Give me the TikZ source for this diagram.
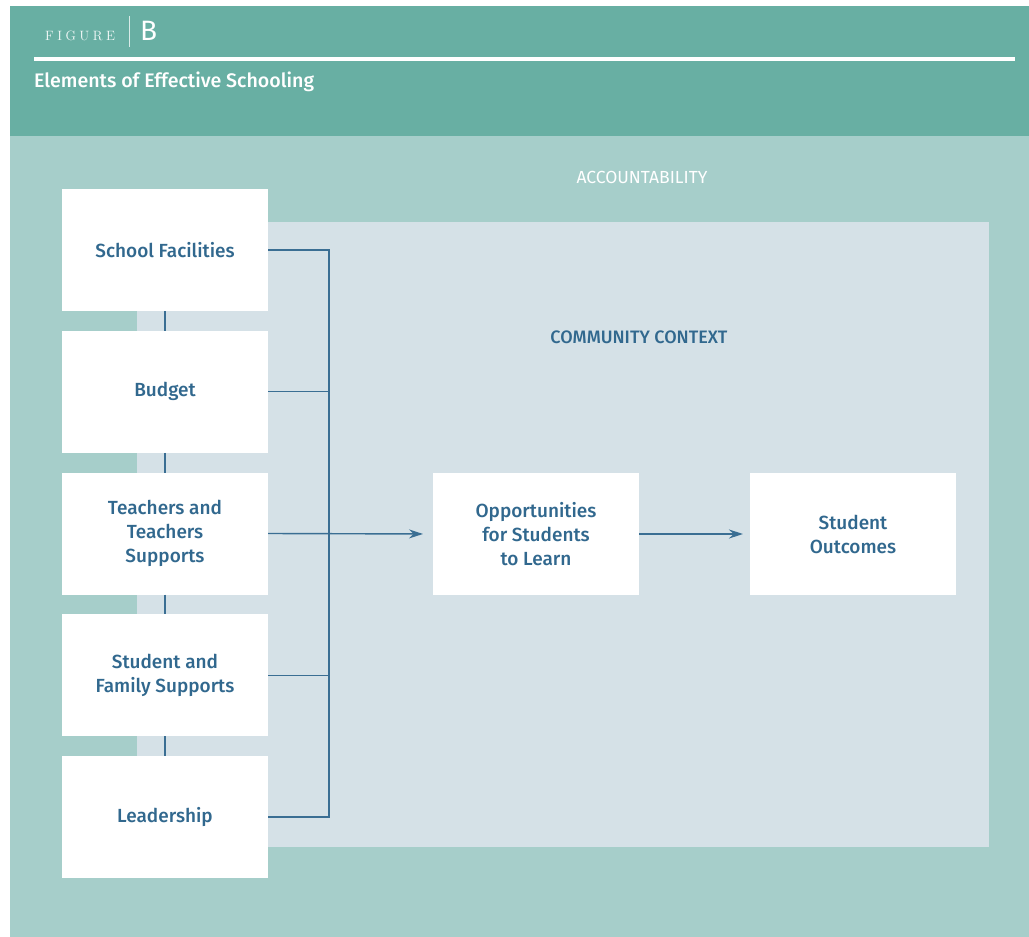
\documentclass[tikz,border=0pt]{standalone}
\usepackage{fontspec}
\setsansfont{Fira Sans}[UprightFont=* Medium, BoldFont=* SemiBold]
\newfontfamily\plainsans{Fira Sans}
\usetikzlibrary{positioning, arrows.meta}
\definecolor{headteal}{HTML}{68AFA3}
\definecolor{paleteal}{HTML}{A6CECA}
\definecolor{contextgrey}{HTML}{D5E1E7}
\definecolor{textblue}{HTML}{31688E}
\definecolor{lineblue}{HTML}{3A6E93}
\tikzset{
	element/.style={fill=white, minimum width=206pt, minimum height=122pt, inner sep=0pt, outer sep=0pt, align=center, text=textblue, font=\sffamily\fontsize{19}{24}\selectfont}, % the white boxes
	link/.style={draw=lineblue, line width=1.4pt}, % plain connector
	flow/.style={link, -{Stealth[length=14pt, width=9pt]}}, % connector with arrow head
	node distance=19.75pt,
}
\begin{document}
\begin{tikzpicture}[x=1pt, y=-1pt]
	\useasboundingbox (0,0) rectangle (1029,937);
	% panels
	\fill[headteal] (10,6) rectangle (1029,136);
	\fill[paleteal] (10,136) rectangle (1029,937);
	\fill[contextgrey] (137,222) rectangle (989,847);
	% heading
	\node[anchor=west, text=white!92!headteal, inner sep=0pt, font=\fontsize{13.5}{15}\selectfont] (fig) at (45,36) {F\kern3.5pt I\kern3.5pt G\kern3.5pt U\kern3.5pt R\kern3.5pt E};
	\node[anchor=west, text=white, inner sep=0pt, font=\plainsans\fontsize{28}{32}\selectfont] (letter) at (140,31) {B};
	\draw[white!75!headteal, line width=1pt] (129,16) -- (129,47);
	\fill[white] (34,57) rectangle (1015,61);
	\node[anchor=west, text=white, inner sep=0pt, font=\sffamily\fontsize{19.6}{22}\selectfont] (title) at (34,82) {Elements of Effective Schooling};
	\node[text=white, font=\plainsans\fontsize{17.5}{20}\selectfont] (acc) at (642,177) {ACCOUNTABILITY};
	\node[text=textblue, font=\sffamily\fontsize{18}{20}\selectfont] (ctx) at (639,337) {COMMUNITY CONTEXT};
	% left column
	\node[element] (facilities) at (165,250) {School Facilities};
	\node[element, below=of facilities] (budget) {Budget};
	\node[element, below=of budget] (teachers) {Teachers and\\Teachers\\Supports};
	\node[element, below=of teachers] (family) {Student and\\Family Supports};
	\node[element, below=of family] (leadership) {Leadership};
	% right part
	\node[element] (learn) at (536,534) {Opportunities\\for Students\\to Learn};
	\node[element] (outcomes) at (853,534) {Student\\Outcomes};
	\coordinate (join) at (329,534);
	\foreach \a/\b in {facilities/budget, budget/teachers, teachers/family, family/leadership}
		\draw[link] (\a.south) -- (\b.north);
	\draw[link] (facilities.east) -| (join) |- (leadership.east);
	\draw[link] (budget.east) -- (budget.east -| join);
	\draw[link] (family.east) -- (family.east -| join);
	\draw[flow, shorten >=10pt] (teachers.east) -- (learn.west);
	\draw[flow, shorten >=7pt] (learn.east) -- (outcomes.west);
\end{tikzpicture}
\end{document}
